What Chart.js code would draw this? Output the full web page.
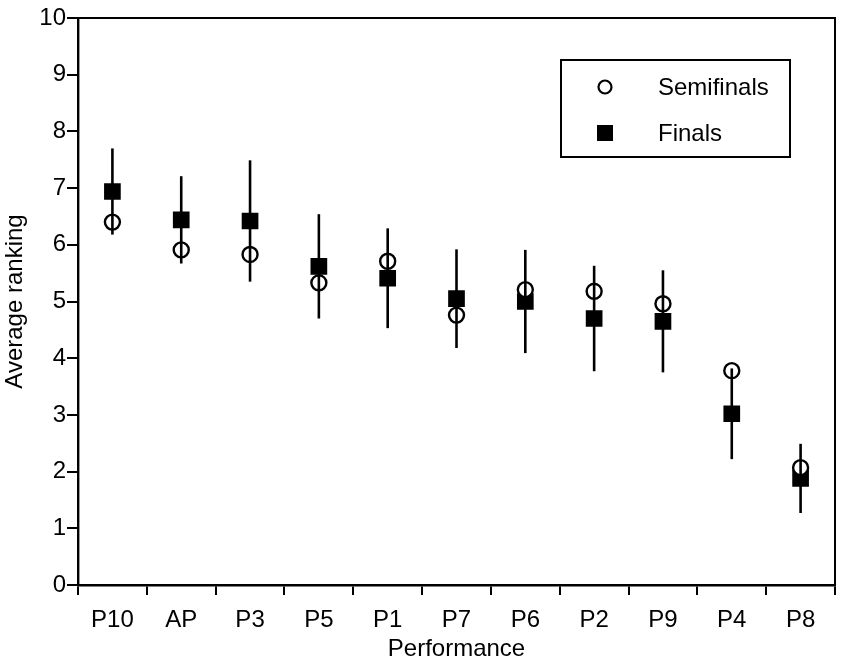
<!DOCTYPE html>
<html>
<head>
<meta charset="utf-8">
<script src="https://cdn.jsdelivr.net/npm/chart.js@4"></script>
<style>
html,body{margin:0;padding:0;background:#fff;}
#wrap{width:865px;height:664px;}
</style>
</head>
<body>
<div id="wrap"><canvas id="c" width="865" height="664"></canvas></div>
<script>
// ---- data ----
const categories = ['P10','AP','P3','P5','P1','P7','P6','P2','P9','P4','P8'];
const semifinals = [6.40, 5.91, 5.83, 5.33, 5.71, 4.76, 5.21, 5.18, 4.96, 3.78, 2.07];
const finals     = [6.94, 6.44, 6.42, 5.62, 5.41, 5.05, 5.00, 4.70, 4.65, 3.02, 1.88];
const finalsErr  = [0.76, 0.77, 1.07, 0.92, 0.88, 0.87, 0.91, 0.93, 0.90, 0.80, 0.61];
const yTicks     = [0,1,2,3,4,5,6,7,8,9,10];
const seriesNames = ['Semifinals','Finals'];
const xTitle = 'Performance';
const yTitle = 'Average ranking';

const FONT = '"Liberation Sans", Arial, Helvetica, sans-serif';
const FS = 24;

const errorBars = {
  id: 'errorBars',
  afterDatasetsDraw(chart) {
    const {ctx, scales: {x, y}} = chart;
    ctx.save();
    ctx.strokeStyle = '#000';
    ctx.lineWidth = 2.6;
    finals.forEach((v, i) => {
      const px = x.getPixelForValue(i);
      ctx.beginPath();
      ctx.moveTo(px, y.getPixelForValue(v + finalsErr[i]));
      ctx.lineTo(px, y.getPixelForValue(v - finalsErr[i]));
      ctx.stroke();
    });
    ctx.restore();
  }
};

const frame = {
  id: 'frame',
  afterDraw(chart) {
    const {ctx, chartArea: a} = chart;
    ctx.save();
    ctx.strokeStyle = '#000';
    ctx.lineWidth = 2;
    ctx.strokeRect(a.left, a.top, a.right - a.left, a.bottom - a.top);
    ctx.restore();
  }
};

const boxLegend = {
  id: 'boxLegend',
  afterDraw(chart) {
    const ctx = chart.ctx;
    const bx = 561, by = 60, bw = 229, bh = 97;
    ctx.save();
    ctx.fillStyle = '#fff';
    ctx.fillRect(bx, by, bw, bh);
    ctx.strokeStyle = '#000';
    ctx.lineWidth = 2;
    ctx.strokeRect(bx, by, bw, bh);
    ctx.font = FS + 'px ' + FONT;
    ctx.textBaseline = 'middle';
    ctx.textAlign = 'left';
    ctx.fillStyle = '#000';
    // Semifinals: hollow circle
    ctx.beginPath();
    ctx.arc(605, 87, 6.5, 0, Math.PI * 2);
    ctx.lineWidth = 2.2;
    ctx.stroke();
    ctx.fillText(chart.data.datasets[0].label, 658, 88);
    // Finals: filled square
    ctx.fillRect(597, 125, 16, 16);
    ctx.fillText(chart.data.datasets[1].label, 658, 134);
    ctx.restore();
  }
};

new Chart(document.getElementById('c'), {
  type: 'line',
  data: {
    labels: categories,
    datasets: [
      {
        label: seriesNames[0],
        data: semifinals,
        showLine: false,
        pointStyle: 'circle',
        pointRadius: 7.5,
        pointBorderWidth: 2.4,
        borderColor: '#000',
        backgroundColor: '#fff',
        pointBackgroundColor: '#fff',
        pointBorderColor: '#000',
        order: 1
      },
      {
        label: seriesNames[1],
        data: finals,
        showLine: false,
        pointStyle: 'rect',
        pointRadius: 11.8,
        pointBorderWidth: 0,
        borderColor: '#000',
        backgroundColor: '#000',
        pointBackgroundColor: '#000',
        pointBorderColor: '#000',
        order: 2
      }
    ]
  },
  options: {
    responsive: false,
    animation: false,
    events: [],
    layout: {padding: {top: 18, right: 30, left: 0, bottom: 0}},
    plugins: {legend: {display: false}, tooltip: {enabled: false}},
    scales: {
      x: {
        type: 'category',
        offset: true,
        grid: {offset: true, drawOnChartArea: false, drawTicks: true, tickLength: 10, color: '#000', lineWidth: 2},
        border: {display: true, color: '#000', width: 2.4},
        ticks: {color: '#000', font: {family: FONT, size: FS}, padding: 11, maxRotation: 0, autoSkip: false},
        title: {display: true, text: xTitle, color: '#000', font: {family: FONT, size: FS}, padding: {top: 0, bottom: 0}},
        afterFit(s) { s.height = 79; }
      },
      y: {
        min: 0, max: 10,
        afterBuildTicks(s) { s.ticks = yTicks.map(v => ({value: v})); },
        grid: {drawOnChartArea: false, drawTicks: true, tickLength: 11, color: '#000', lineWidth: 2},
        border: {display: true, color: '#000', width: 2.4},
        ticks: {color: '#000', font: {family: FONT, size: FS}, padding: 1},
        title: {display: true, text: yTitle, color: '#000', font: {family: FONT, size: FS}, padding: {top: 1, bottom: 0}},
        afterFit(s) { s.width = 78; }
      }
    }
  },
  plugins: [errorBars, frame, boxLegend]
});
</script>
</body>
</html>
